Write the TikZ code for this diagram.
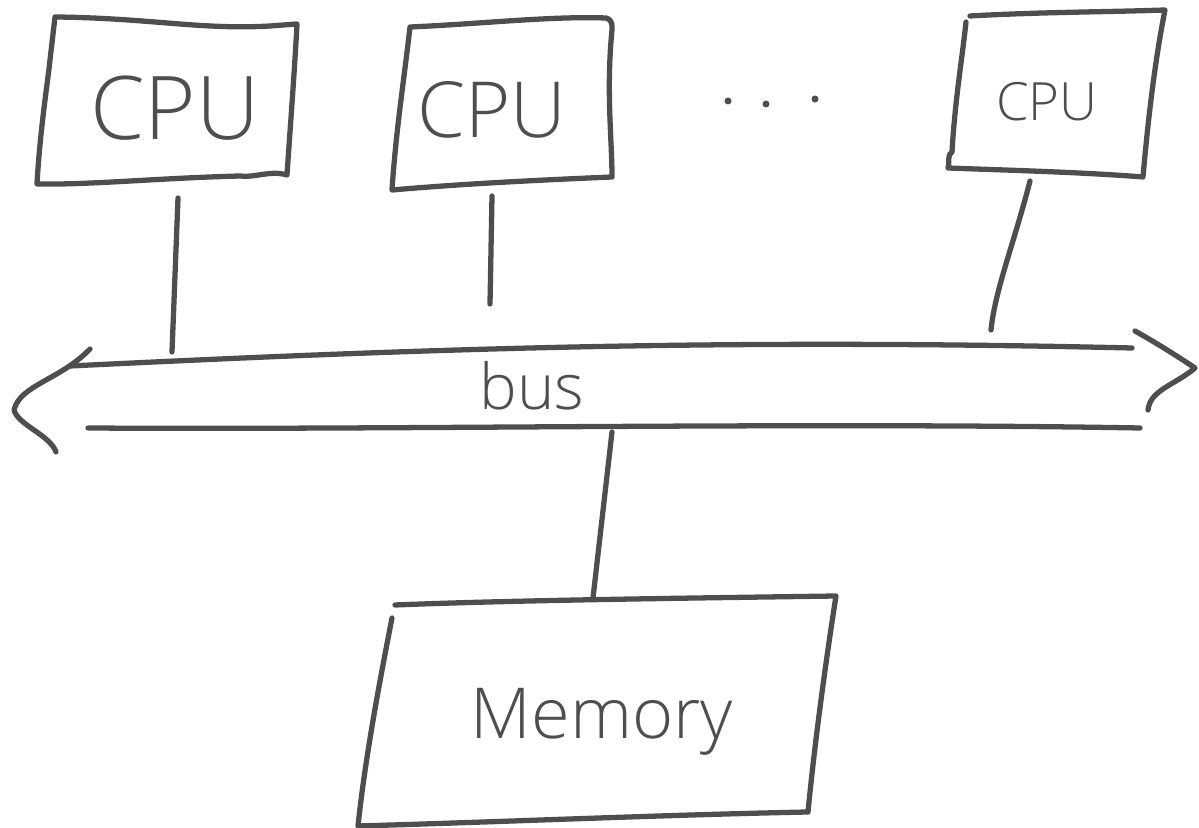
\documentclass[tikz,border=0pt]{standalone}
\usepackage{fontspec}
\setmainfont{Open Sans}
\definecolor{ink}{HTML}{4E4E4E}
\begin{document}
\begin{tikzpicture}[x=0.01cm,y=-0.01cm,
  pen/.style={draw=ink,line width=1.5pt,line cap=round,line join=round},
  lbl/.style={text=ink,inner sep=0pt}]
\useasboundingbox (0,0) rectangle (1199,828);

% CPU boxes
\draw[pen] (55,17) .. controls (150,18) and (200,30) .. (270,26) -- (297,24)
  .. controls (294,80) and (290,130) .. (287,175) .. controls (270,170) and (255,178) .. (240,176)
  .. controls (160,178) and (90,185) .. (37,184) .. controls (40,130) and (48,80) .. (50,60) -- (55,17);
\draw[pen] (410,27) .. controls (480,24) and (550,16) .. (606,18) .. controls (613,20) and (612,26) .. (612,30)
  .. controls (606,90) and (612,140) .. (612,177) .. controls (540,180) and (460,184) .. (392,190)
  .. controls (396,130) and (404,80) .. (410,27);
\draw[pen] (970,16) .. controls (1040,12) and (1110,12) .. (1165,10)
  .. controls (1155,60) and (1148,120) .. (1143,177) .. controls (1080,172) and (1000,170) .. (948,168)
  .. controls (950,160) and (947,155) .. (952,152) .. controls (955,100) and (962,60) .. (966,22);
% Memory box
\draw[pen] (395,605) .. controls (520,600) and (700,598) .. (836,596)
  .. controls (826,660) and (815,740) .. (808,812) .. controls (660,815) and (500,822) .. (358,826)
  .. controls (365,760) and (378,690) .. (392,618);

% labels
\node[lbl,font=\fontspec{Open Sans Light}\fontsize{25pt}{25pt}\selectfont] (cpu1) at (175,108) {CPU};
\node[lbl,font=\fontspec{Open Sans Light}\fontsize{22pt}{22pt}\selectfont] (cpu2) at (492,110) {CPU};
\node[lbl,font=\fontspec{Open Sans Light}\fontsize{15pt}{15pt}\selectfont] (cpu3) at (1047,102) {CPU};
\node[lbl,font=\fontspec{Open Sans Light}\fontsize{20pt}{20pt}\selectfont] (mem) at (602,722) {Memory};
\node[lbl,font=\fontspec{Open Sans Light}\fontsize{18pt}{18pt}\selectfont] (bus) at (532,386) {bus};

% ellipsis dots
\foreach \px/\py [count=\i] in {728/101,766/104,815/99}
  \fill[ink] (\px,\py) circle (3.5) coordinate (dot\i);

% bus outline
\coordinate (bl1) at (70,366);
\coordinate (br1) at (1132,348);
\coordinate (bl2) at (88,428);
\coordinate (br2) at (1140,428);
\draw[pen] (bl1) .. controls (400,350) and (700,338) .. (br1);
\draw[pen] (bl2) .. controls (400,430) and (800,422) .. (br2);
% arrow heads
\draw[pen] (90,349) .. controls (60,380) and (20,385) .. (14,410) .. controls (18,425) and (50,435) .. (56,452);
\draw[pen] (1135,331) .. controls (1160,345) and (1180,358) .. (1195,368) .. controls (1175,385) and (1150,390) .. (1148,410);

% connectors from the CPUs down to the bus, and the bus to memory
\coordinate (c1) at (178,198);
\coordinate (t1) at (172,352);
\coordinate (c2) at (492,196);
\coordinate (t2) at (490,304);
\coordinate (c3) at (1030,181);
\coordinate (t3) at (991,330);
\coordinate (bm) at (612,432);
\coordinate (mt) at (593,598);
\draw[pen] (c1) -- (t1);
\draw[pen] (c2) -- (t2);
\draw[pen] (c3) .. controls (1015,240) and (995,290) .. (t3);
\draw[pen] (bm) -- (mt);
\end{tikzpicture}
\end{document}
